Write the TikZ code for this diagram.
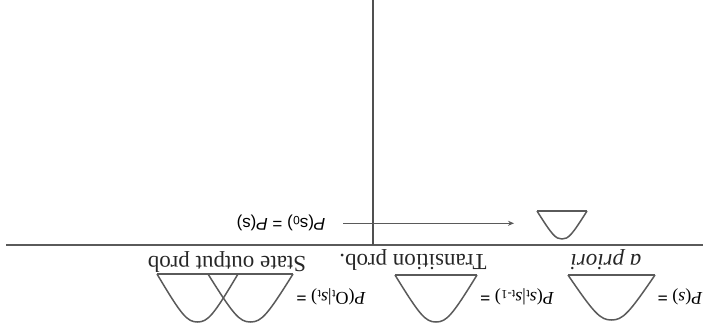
\documentclass[tikz,border=0pt]{standalone}
\usepackage{fontspec}
\setmainfont{Liberation Serif}
\newfontfamily\labsans{Liberation Sans}
\usetikzlibrary{arrows.meta}
\definecolor{lgray}{HTML}{5A5A5A}
\definecolor{dgray}{HTML}{505050}
\newcommand{\bellcurve}[4]{% L, R, top, bottom (image coords)
  \draw[bellline] (#1,#3) .. controls ({#1+0.3*(#2-#1)},{#3+0.85*(#4-#3)}) and ({(#1+#2)/2-0.13*(#2-#1)},#4) .. ({(#1+#2)/2},#4)
    .. controls ({(#1+#2)/2+0.13*(#2-#1)},#4) and ({#2-0.3*(#2-#1)},{#3+0.85*(#4-#3)}) .. (#2,#3);}
\tikzset{
  bellline/.style={draw=lgray, line width=1.5pt, line join=round},
  baseline/.style={draw=lgray, line width=1.4pt},
  flip/.style={rotate=180, inner sep=0pt},
  captxt/.style={flip, font=\fontsize{23}{25}\selectfont, text=black!85},
  eqtxt/.style={flip, font=\fontsize{18}{20}\selectfont, text=black},
  sanstxt/.style={flip, font=\labsans\fontsize{17}{19}\selectfont, text=black},
}
\begin{document}
\begin{tikzpicture}[x=1pt,y=-1pt]
\useasboundingbox (0,0) rectangle (703,329);
% main axes
\draw[draw=lgray, line width=1.3pt] (6,245) -- (703,245);
\draw[draw=dgray, line width=2pt] (372.7,0) -- (372.7,245);
% initial distribution
\node[sanstxt] (init) at (281,223) {\textit{P}(s\textsubscript{0}) = \textit{P}(s)};
\coordinate (arrS) at (343,223.3);
\coordinate (arrE) at (514,223.3);
\draw[draw=lgray, line width=0.8pt, -{Stealth[length=6pt,width=5pt]}] (arrS) -- (arrE);
\draw[baseline] (537,211) -- (587,211);
\bellcurve{537}{587}{211}{239}
% captions
\node[captxt] (apriori) at (606,260) {\textit{a priori}};
\node[captxt] (trans) at (413,260) {Transition prob.};
\node[captxt] (state) at (227,262) {State output prob};
% equations
\node[eqtxt] (eqA) at (680,297) {\textit{P}(\textit{s}) \textbf{=}};
\node[eqtxt] (eqB) at (517,297) {\textit{P}(\textit{s}\textsubscript{t}|\textit{s}\textsubscript{t-1}) \textbf{=}};
\node[eqtxt] (eqC) at (331,297) {\textit{P}(O\textsubscript{t}|\textit{s}\textsubscript{t}) \textbf{=}};
% bells
\draw[baseline] (568,275) -- (655,275);
\bellcurve{568}{655}{275}{320}
\draw[baseline] (395,275) -- (477,275);
\bellcurve{395}{477}{275}{322}
\draw[baseline] (157,274) -- (293,274);
\bellcurve{157}{238}{274}{322}
\bellcurve{208}{293}{274}{322}
\end{tikzpicture}
\end{document}
